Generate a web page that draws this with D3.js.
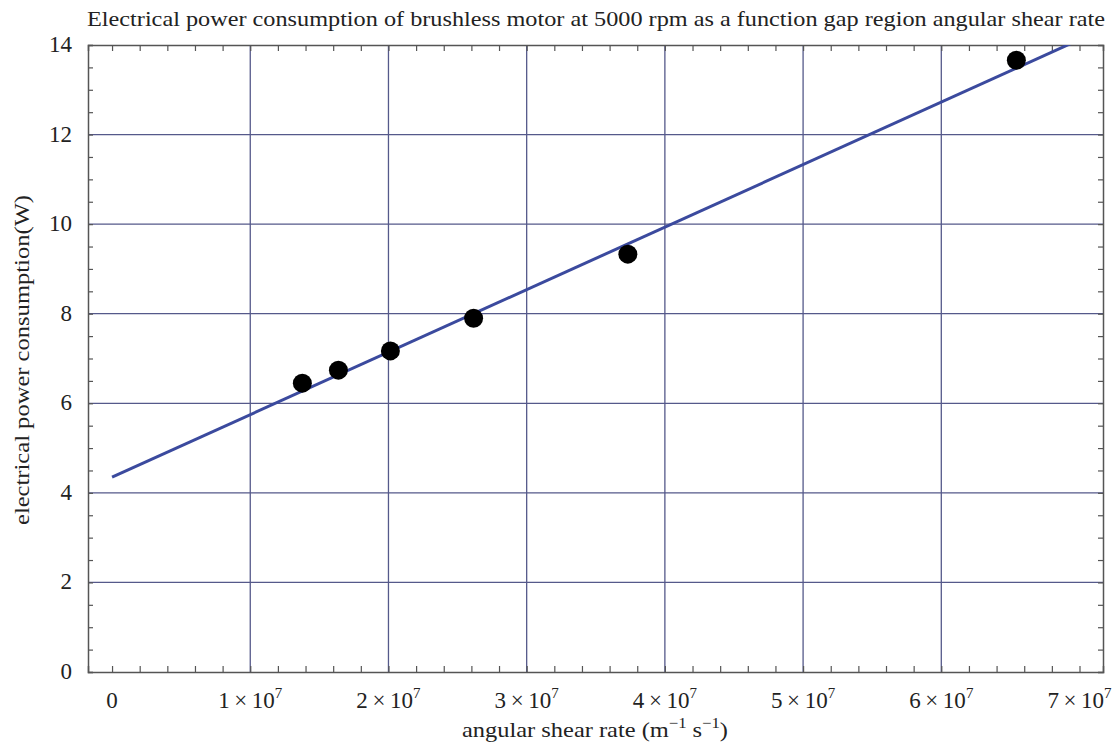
<!DOCTYPE html>
<html>
<head>
<meta charset="utf-8">
<script src="https://cdn.jsdelivr.net/npm/d3@7"></script>
<style>
  body { margin: 0; background: #fff; }
  svg text { font-family: "Liberation Serif", "DejaVu Serif", serif; fill: #222; }
</style>
</head>
<body>
<div id="chart"></div>
<script>
// measured points
var shearRate = [1.377e7, 1.638e7, 2.014e7, 2.616e7, 3.732e7, 6.543e7];
var powerW = [6.45, 6.74, 7.17, 7.90, 9.33, 13.66];
// fitted line (two end points)
var fitX = [0, 7.2e7];
var fitY = [4.35, 14.40];
var xTicks = [0, 1e7, 2e7, 3e7, 4e7, 5e7, 6e7, 7e7];
var xGrid = [1e7, 2e7, 3e7, 4e7, 5e7, 6e7];
var yTicks = [0, 2, 4, 6, 8, 10, 12, 14];
var yGrid = [2, 4, 6, 8, 10, 12];

var W = 1118, H = 748;
var margin = {left: 88, top: 45, right: 15, bottom: 76};

var svg = d3.select("#chart").append("svg")
	.attr("width", W).attr("height", H);

var x = d3.scaleLinear()
	.domain([-0.174e7, 7.17e7])
	.range([margin.left, W - margin.right]);
var y = d3.scaleLinear()
	.domain([0, 14])
	.range([H - margin.bottom, margin.top]);

var gridColor = "#55598a";
var g = svg.append("g");

// grid
g.selectAll(".vgrid").data(xGrid).enter().append("line")
	.attr("x1", function(d){ return x(d); }).attr("x2", function(d){ return x(d); })
	.attr("y1", y(0)).attr("y2", y(14))
	.style("stroke", gridColor).style("stroke-width", 1.3);
g.selectAll(".hgrid").data(yGrid).enter().append("line")
	.attr("y1", function(d){ return y(d); }).attr("y2", function(d){ return y(d); })
	.attr("x1", x.range()[0]).attr("x2", x.range()[1])
	.style("stroke", gridColor).style("stroke-width", 1.3);

// frame ticks (major + minor) on all four sides
var xMinor = d3.range(-0.0, 7.2e7, 0.2e7);
var yMinor = d3.range(0, 14.01, 0.5);
var axisB = d3.axisBottom(x).tickValues(xMinor).tickSize(-6).tickFormat("");
var axisT = d3.axisTop(x).tickValues(xMinor).tickSize(-6).tickFormat("");
var axisL = d3.axisLeft(y).tickValues(yMinor).tickSize(-5).tickFormat("");
var axisR = d3.axisRight(y).tickValues(yMinor).tickSize(-5).tickFormat("");
[[axisB, "translate(0," + y(0) + ")"], [axisT, "translate(0," + y(14) + ")"],
 [axisL, "translate(" + x.range()[0] + ",0)"], [axisR, "translate(" + x.range()[1] + ",0)"]]
	.forEach(function(a){
		var ax = svg.append("g").attr("transform", a[1]).call(a[0]);
		ax.selectAll("path").style("stroke", "#555").style("stroke-width", 1.5);
		ax.selectAll("line").style("stroke", "#555").style("stroke-width", 1.2);
	});

// fit line, clipped to plot area
svg.append("clipPath").attr("id", "plotclip").append("rect")
	.attr("x", x.range()[0]).attr("y", y(14))
	.attr("width", x.range()[1] - x.range()[0]).attr("height", y(0) - y(14));
var line = d3.line()
	.x(function(d){ return x(d[0]); })
	.y(function(d){ return y(d[1]); });
svg.append("path")
	.datum(d3.zip(fitX, fitY))
	.attr("clip-path", "url(#plotclip)")
	.attr("d", line)
	.style("fill", "none").style("stroke", "#3b4a9e").style("stroke-width", 3);

// points
svg.selectAll("circle").data(d3.zip(shearRate, powerW)).enter().append("circle")
	.attr("cx", function(d){ return x(d[0]); })
	.attr("cy", function(d){ return y(d[1]); })
	.attr("r", 9.5)
	.style("fill", "#000");

// tick labels
var xl = svg.selectAll(".xl").data(xTicks).enter().append("text")
	.attr("x", function(d){ return x(d); })
	.attr("y", y(0) + 36)
	.attr("text-anchor", "middle")
	.style("font-size", "23px");
xl.each(function(d){
	var t = d3.select(this);
	if (d === 0) { t.text("0"); return; }
	t.append("tspan").text((d / 1e7) + "\u2009\u00d7\u200910");
	t.append("tspan").attr("dy", -10).style("font-size", "15px").text("7");
});
svg.selectAll(".yl").data(yTicks).enter().append("text")
	.attr("x", x.range()[0] - 16)
	.attr("y", function(d){ return y(d) + 7; })
	.attr("text-anchor", "end")
	.style("font-size", "23px")
	.text(function(d){ return d; });

// title + axis labels
svg.append("text")
	.attr("x", 87).attr("y", 26)
	.attr("textLength", 1018).attr("lengthAdjust", "spacingAndGlyphs")
	.style("font-size", "21px")
	.text("Electrical power consumption of brushless motor at 5000 rpm as a function gap region angular shear rate");

var xlab = svg.append("text")
	.attr("x", 462).attr("y", 737)
	.attr("textLength", 266).attr("lengthAdjust", "spacingAndGlyphs")
	.style("font-size", "22px");
xlab.append("tspan").text("angular shear rate (m");
xlab.append("tspan").attr("dy", -9).style("font-size", "15px").text("\u22121");
xlab.append("tspan").attr("dy", 9).text(" s");
xlab.append("tspan").attr("dy", -9).style("font-size", "15px").text("\u22121");
xlab.append("tspan").attr("dy", 9).text(")");

svg.append("text")
	.attr("transform", "translate(29,360) rotate(-90)")
	.attr("text-anchor", "middle")
	.attr("textLength", 330).attr("lengthAdjust", "spacingAndGlyphs")
	.style("font-size", "21px")
	.text("electrical power consumption(W)");
</script>
</body>
</html>
